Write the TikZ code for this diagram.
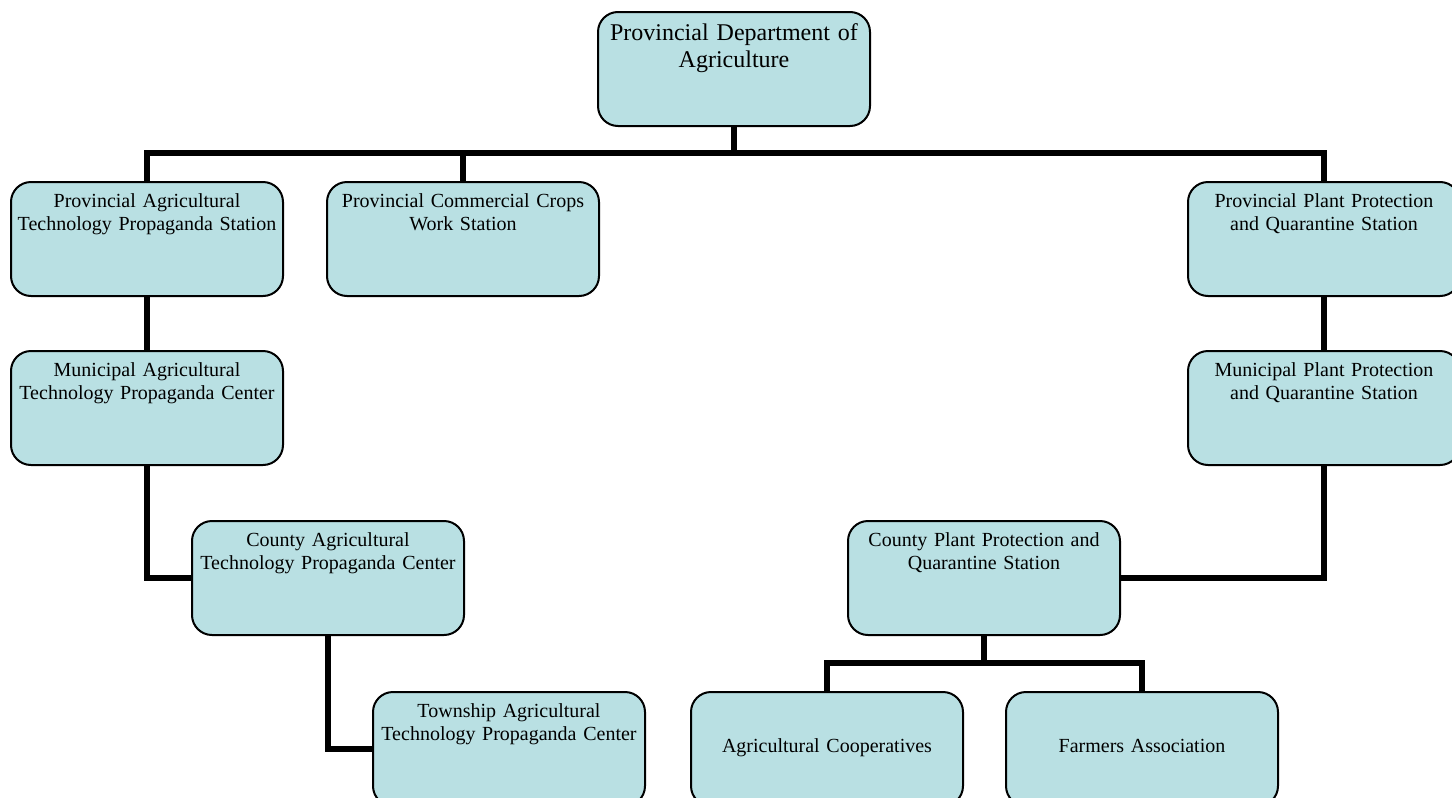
\documentclass[tikz,border=0pt]{standalone}
\usepackage{fontspec}
\setmainfont{Liberation Serif}
\definecolor{boxfill}{HTML}{B9E0E3}

\begin{document}
\begin{tikzpicture}[x=0.5pt, y=-0.5pt,
    orgbox/.style={draw=black, line width=1pt, fill=boxfill, rounded corners=10pt,
      inner sep=0pt, text width=130pt, minimum width=136pt, align=center,
      font=\fontsize{10}{11.5}\selectfont, text height=12.5pt, text depth=44.5pt},
    topbox/.style={orgbox, font=\fontsize{12}{13.8}\selectfont, text height=14pt, text depth=43pt},
    onebox/.style={orgbox, text height=30pt, text depth=27pt},
    link/.style={line width=3.3pt}]
    \useasboundingbox (0,0) rectangle (1452,798);
    \clip (0,0) rectangle (1452,798);
    % boxes
    \node[topbox] (dept) at (734,69) {Provincial Department of\\Agriculture};
    \node[orgbox] (pats) at (147,239) {Provincial Agricultural\\Technology Propaganda Station};
    \node[orgbox] (pccs) at (463,239) {Provincial Commercial Crops\\Work Station};
    \node[orgbox] (ppps) at (1324,239) {Provincial Plant Protection\\and Quarantine Station};
    \node[orgbox] (matc) at (147,408) {Municipal Agricultural\\Technology Propaganda Center};
    \node[orgbox] (mpps) at (1324,408) {Municipal Plant Protection\\and Quarantine Station};
    \node[orgbox] (catc) at (328,578) {County Agricultural\\Technology Propaganda Center};
    \node[orgbox] (cpps) at (984,578) {County Plant Protection and\\Quarantine Station};
    \node[orgbox] (tatc) at (509,749) {Township Agricultural\\Technology Propaganda Center};
    \node[onebox] (coop) at (827,749) {Agricultural Cooperatives};
    \node[onebox] (farm) at (1142,749) {Farmers Association};
    % connectors
    \draw[link] (dept.south) -- ++(0,26) coordinate (bus);
    \draw[link] (pats.north) |- (bus) -| (ppps.north);
    \draw[link] (pccs.north) -- (pccs.north |- bus);
    \draw[link] (pats.south) -- (matc.north);
    \draw[link] (matc.south) |- (catc.west);
    \draw[link] (catc.south) |- (tatc.west);
    \draw[link] (ppps.south) -- (mpps.north);
    \draw[link] (mpps.south) |- (cpps.east);
    \draw[link] (cpps.south) -- ++(0,27) coordinate (cbus);
    \draw[link] (coop.north) |- (cbus) -| (farm.north);
\end{tikzpicture}
\end{document}
